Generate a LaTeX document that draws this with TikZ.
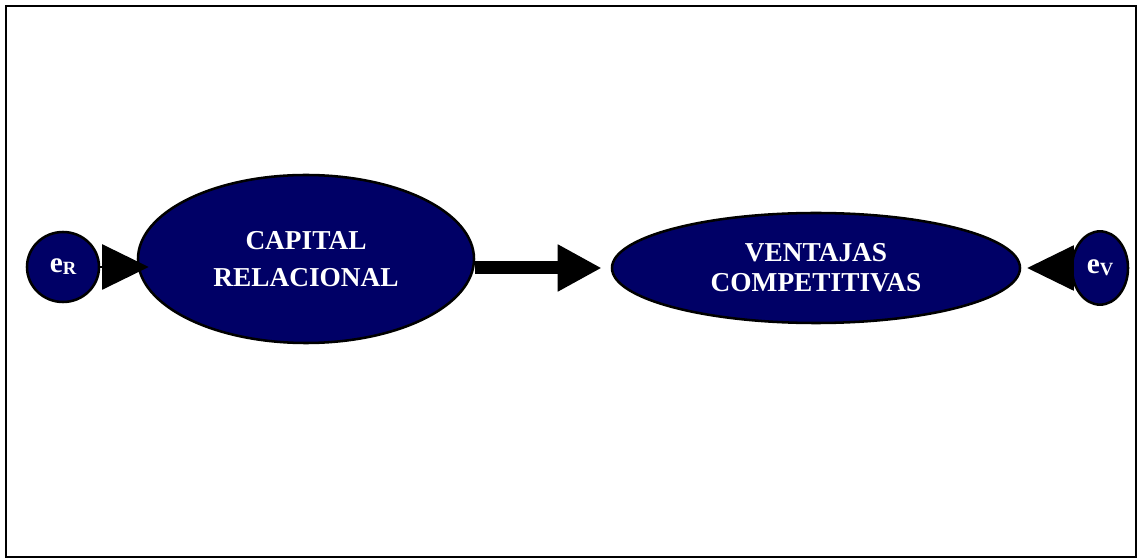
\documentclass[tikz,border=0pt]{standalone}
\usepackage{fontspec}
\setmainfont{Liberation Serif}
\usetikzlibrary{shapes.geometric, arrows.meta, positioning}
\definecolor{bleuNuit}{RGB}{0, 0, 102}

\begin{document}
\begin{tikzpicture}[x=0.75pt, y=-0.75pt,
  var/.style={ellipse, draw=black, fill=bleuNuit, line width=1.9pt,
    inner sep=0pt, align=center, text=white,
    font=\fontsize{20.5}{27.5}\selectfont\bfseries},
  err/.style={ellipse, draw=black, fill=bleuNuit, line width=1.9pt,
    inner sep=0pt, text=white, font=\fontsize{22}{22}\selectfont\bfseries},
  arr/.style={-{Triangle[length=35pt, width=34pt]}, line width=1pt},
  bigarr/.style={-{Triangle[length=33pt, width=33pt]}, line width=9.75pt},
]
\useasboundingbox (0,0) rectangle (1138,559);
\draw[line width=1.8pt] (6,6) rectangle (1136,557);
\node[var, minimum width=252pt, minimum height=126pt] (capital)
  at (306, 259) {CAPITAL\\RELACIONAL};
\node[var, minimum width=306pt, minimum height=82.5pt,
  font=\fontsize{20.5}{22.5}\selectfont\bfseries] (ventajas)
  at (816, 268) {VENTAJAS\\COMPETITIVAS};
\node[err, minimum width=54pt, minimum height=52.5pt] (eR)
  at (63, 267) {e{\fontsize{14}{14}\selectfont\raisebox{-1.5pt}{R}}};
\node[err, minimum width=42pt, minimum height=55pt] (eV)
  at (1100, 268) {e{\fontsize{14}{14}\selectfont\raisebox{-1.5pt}{V}}};
\draw[arr, shorten >=-9pt] (eR.east) -- (eR.east -| capital.west);
\draw[bigarr, shorten >=6.75pt]
  (capital.east |- ventajas.west) -- (ventajas.west);
\draw[arr, shorten >=4.5pt] (eV.west) -- (eV.west -| ventajas.east);
\end{tikzpicture}
\end{document}
